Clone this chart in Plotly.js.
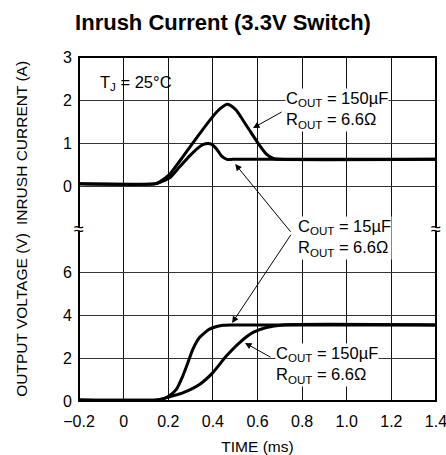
<!DOCTYPE html>
<html><head><meta charset="utf-8">
<script src="https://cdn.plot.ly/plotly-3.0.1.min.js"></script>
<style>html,body{margin:0;padding:0;background:#fff}#chart{width:446px;height:455px}</style>
</head><body><div id="chart"></div>
<script>
// ---- data ----
const timeTicks = [-0.2, 0, 0.2, 0.4, 0.6, 0.8, 1.0, 1.2, 1.4];
const timeTickText = ['\u22120.2', '0', '0.2', '0.4', '0.6', '0.8', '1.0', '1.2', '1.4'];
const voltTicks = [0, 2, 4, 6];
const currTicks = [0, 1, 2, 3];

// inrush current, COUT = 150uF (ms, A)
const tCurr150 = [-0.2, 0.14, 0.16, 0.206, 0.25, 0.296, 0.34, 0.385, 0.42, 0.445, 0.463, 0.48, 0.505, 0.535, 0.565, 0.61, 0.64, 0.67, 0.7, 1.4];
const curr150  = [0.05, 0.05, 0.09, 0.27, 0.57, 0.90, 1.21, 1.52, 1.74, 1.85, 1.90, 1.87, 1.76, 1.53, 1.29, 0.94, 0.74, 0.64, 0.62, 0.62];
// inrush current, COUT = 15uF
const tCurr15 = [-0.2, 0.14, 0.16, 0.206, 0.25, 0.296, 0.33, 0.355, 0.378, 0.395, 0.408, 0.425, 0.438, 0.463, 0.49, 1.4];
const curr15  = [0.05, 0.05, 0.08, 0.19, 0.44, 0.70, 0.87, 0.96, 0.99, 0.97, 0.91, 0.80, 0.70, 0.62, 0.62, 0.62];
// output voltage, COUT = 15uF (ms, V)
const tVolt15 = [-0.2, 0.15, 0.183, 0.21, 0.236, 0.265, 0.288, 0.31, 0.34, 0.385, 0.445, 0.48, 1.4];
const volt15  = [0.05, 0.05, 0.12, 0.28, 0.54, 1.16, 1.78, 2.40, 2.95, 3.34, 3.52, 3.54, 3.54];
// output voltage, COUT = 150uF
const tVolt150 = [-0.2, 0.15, 0.175, 0.206, 0.265, 0.34, 0.40, 0.46, 0.52, 0.58, 0.64, 0.714, 1.4];
const volt150  = [0.05, 0.05, 0.10, 0.20, 0.38, 0.77, 1.32, 2.09, 2.72, 3.19, 3.42, 3.54, 3.54];

// ---- chart ----
const F = 'Liberation Sans, Arial, sans-serif';
const lineStyle = {color: '#000', width: 3, shape: 'spline', smoothing: 0.6};

const traces = [
  {x: tCurr150, y: curr150, xaxis: 'x', yaxis: 'y2', mode: 'lines', line: lineStyle, name: 'I 150uF'},
  {x: tCurr15, y: curr15, xaxis: 'x', yaxis: 'y2', mode: 'lines', line: lineStyle, name: 'I 15uF'},
  {x: tVolt15, y: volt15, xaxis: 'x', yaxis: 'y', mode: 'lines', line: lineStyle, name: 'V 15uF'},
  {x: tVolt150, y: volt150, xaxis: 'x', yaxis: 'y', mode: 'lines', line: lineStyle, name: 'V 150uF'}
];

const txt = {family: F, size: 16.5, color: '#000'};
const arrowBase = {text: '', showarrow: true, arrowhead: 2, arrowsize: 1.3, arrowwidth: 1, arrowcolor: '#000'};

const layout = {
  width: 446, height: 455,
  margin: {l: 79, r: 10, t: 57, b: 54},
  paper_bgcolor: '#fff', plot_bgcolor: '#fff',
  font: {family: F, size: 16, color: '#000'},
  showlegend: false,
  title: {text: '<b>Inrush Current (3.3V Switch)</b>', font: {family: F, size: 22, color: '#000'},
          x: 0.5, xref: 'container', xanchor: 'center', y: 0.951, yref: 'container', yanchor: 'middle'},
  xaxis: {range: [-0.2001, 1.4001], tickvals: timeTicks, ticktext: timeTickText, showgrid: true, gridcolor: '#111', gridwidth: 1,
          zeroline: false, showline: false, ticks: '', ticklabelstandoff: 9, ticklabeloverflow: 'allow', anchor: 'y', fixedrange: true,
          title: {text: 'TIME (ms)', font: {family: F, size: 15.5}, standoff: 13}},
  yaxis: {domain: [0, 0.5], range: [0, 8], tickvals: voltTicks, showgrid: true, gridcolor: '#333', gridwidth: 1,
          zeroline: false, showline: false, ticks: '', ticklabelstandoff: 6, anchor: 'x', fixedrange: true,
          title: {text: 'OUTPUT VOLTAGE (V)', font: {family: F, size: 15.5}, standoff: 31}},
  yaxis2: {domain: [0.5, 1], range: [-1, 3], tickvals: currTicks, showgrid: true, gridcolor: '#333', gridwidth: 1,
          zeroline: false, showline: false, ticks: '', ticklabelstandoff: 6, anchor: 'x', fixedrange: true,
          title: {text: 'INRUSH CURRENT (A)', font: {family: F, size: 15.5}, standoff: 31}},
  shapes: [
    {type: 'rect', xref: 'paper', yref: 'paper', x0: 0, x1: 1, y0: 0, y1: 1, line: {color: '#000', width: 2}, layer: 'above'},
    {type: 'rect', xref: 'paper', yref: 'paper', xsizemode: 'pixel', ysizemode: 'pixel', xanchor: 0, yanchor: 0.5,
     x0: -3, x1: 3, y0: -1.5, y1: 1.5, line: {width: 0}, fillcolor: '#fff', layer: 'above'},
    {type: 'rect', xref: 'paper', yref: 'paper', xsizemode: 'pixel', ysizemode: 'pixel', xanchor: 1, yanchor: 0.5,
     x0: -3, x1: 3, y0: -1.5, y1: 1.5, line: {width: 0}, fillcolor: '#fff', layer: 'above'}
  ],
  annotations: [
    {text: 'T<sub>J</sub> = 25°C', xref: 'x', yref: 'y2', x: -0.115, y: 2.4, xanchor: 'left', yanchor: 'middle', showarrow: false, font: txt},
    {text: 'C<sub>OUT</sub> = 150µF<br>R<sub>OUT</sub> = 6.6Ω', xref: 'x', yref: 'y2', x: 0.724, y: 1.77, xanchor: 'left', yanchor: 'middle',
     align: 'left', showarrow: false, font: txt, bgcolor: '#fff', borderpad: 0},
    {text: 'C<sub>OUT</sub> = 15µF<br>R<sub>OUT</sub> = 6.6Ω', xref: 'x', yref: 'y', x: 0.778, y: 7.58, xanchor: 'left', yanchor: 'middle',
     align: 'left', showarrow: false, font: txt, bgcolor: '#fff', borderpad: 0},
    {text: 'C<sub>OUT</sub> = 150µF<br>R<sub>OUT</sub> = 6.6Ω', xref: 'x', yref: 'y', x: 0.679, y: 1.67, xanchor: 'left', yanchor: 'middle',
     align: 'left', showarrow: false, font: txt, bgcolor: '#fff', borderpad: 0},
    Object.assign({}, arrowBase, {xref: 'x', yref: 'y2', axref: 'x', ayref: 'y2', x: 0.58, y: 1.35, ax: 0.715, ay: 1.74}),
    Object.assign({}, arrowBase, {xref: 'x', yref: 'y2', axref: 'x', ayref: 'y2', x: 0.50, y: 0.51, ax: 0.754, ay: -1.10}),
    Object.assign({}, arrowBase, {xref: 'x', yref: 'y', axref: 'x', ayref: 'y', x: 0.486, y: 3.63, ax: 0.754, ay: 7.80}),
    Object.assign({}, arrowBase, {xref: 'x', yref: 'y', axref: 'x', ayref: 'y', x: 0.544, y: 2.70, ax: 0.665, ay: 2.0}),
    {text: '≈', xref: 'paper', yref: 'paper', x: 0, y: 0.5, xanchor: 'center', yanchor: 'middle', showarrow: false, font: {family: F, size: 18, color: '#000'}},
    {text: '≈', xref: 'paper', yref: 'paper', x: 1, y: 0.5, xanchor: 'center', yanchor: 'middle', showarrow: false, font: {family: F, size: 18, color: '#000'}}
  ]
};

Plotly.newPlot('chart', traces, layout, {displayModeBar: false, staticPlot: true});
</script>
</body></html>
